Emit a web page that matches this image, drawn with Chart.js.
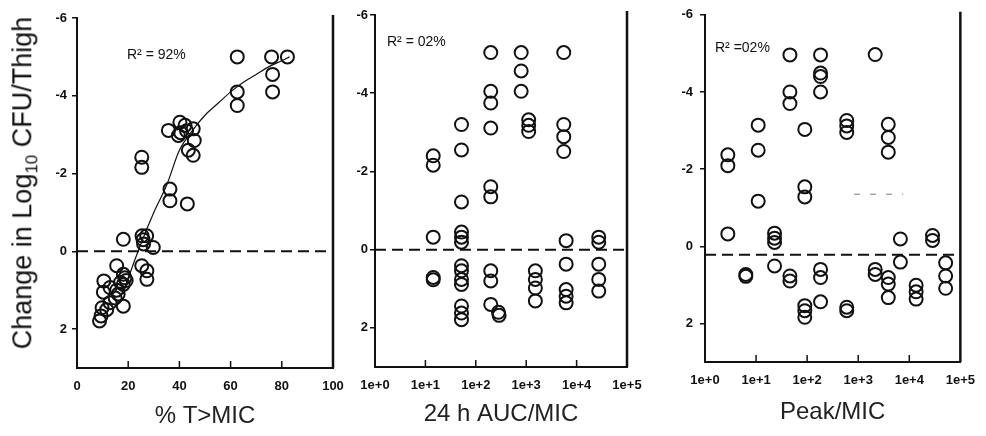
<!DOCTYPE html>
<html>
<head>
<meta charset="utf-8">
<script src="https://cdn.jsdelivr.net/npm/chart.js@4.4.1/dist/chart.umd.min.js"></script>
<style>
  html, body { margin: 0; padding: 0; background: #fff; }
  #wrap { position: relative; width: 986px; height: 436px; overflow: hidden; }
  #wrap canvas { position: absolute; left: 0; top: 0; }
  #ytitle {
    position: absolute; left: 25px; top: 183px;
    transform: translate(-50%, -50%) rotate(-90deg);
    font: 27px "Liberation Sans", Arial, sans-serif; color: #111; white-space: nowrap;
  }
  #ytitle sub { font-size: 17px; }
</style>
</head>
<body>
<div id="wrap">
  <canvas id="c1" width="986" height="436"></canvas>
  <canvas id="c2" width="986" height="436"></canvas>
  <canvas id="c3" width="986" height="436"></canvas>
  <div id="ytitle">Change in Log<sub>10</sub> CFU/Thigh</div>
</div>
<script>
// axis ticks
const yTicks = [-6, -4, -2, 0, 2];
const timeTicks = [0, 20, 40, 60, 80, 100];
const logTicks = [1, 10, 100, 1000, 10000, 100000];

// % T>MIC  [x, change]
const timePoints = [
  [62.6, -5.0], [76, -5.0], [82.2, -5.0], [76.4, -4.55], [76.4, -4.1], [62.6, -4.1], [62.6, -3.75],
  [40.2, -3.32], [35.7, -3.11], [39.6, -2.98], [42.8, -3.1], [45.4, -3.15], [45.8, -2.85],
  [43.5, -2.6], [45.4, -2.47], [42.2, -3.24], [40.5, -3.05],
  [25.3, -2.42], [25.3, -2.16],
  [36.3, -1.6], [36.3, -1.3], [43.1, -1.22],
  [18.1, -0.31], [25.4, -0.4], [27.2, -0.4], [26.0, -0.19], [29.8, -0.1], [25.8, -0.3],
  [25.3, 0.37], [27.3, 0.5], [27.3, 0.72], [15.5, 0.37],
  [10.5, 0.76], [12.9, 0.93], [15.5, 1.0], [18.1, 0.59], [18.7, 0.68], [18.1, 0.85], [19.2, 0.75],
  [17.0, 0.8], [16.1, 1.1], [12.9, 1.32], [18.1, 1.41], [9.8, 1.45], [9.4, 1.66], [8.8, 1.79],
  [11.6, 1.5], [14.9, 1.2], [10.3, 1.05]
];
// fitted curve through % T>MIC
const timeFit = [
  [18, 1.1], [20, 0.7], [25, -0.2], [30, -1.0], [35, -1.7], [40, -2.6], [45, -3.1], [50, -3.5],
  [55, -3.8], [60, -4.1], [65, -4.35], [70, -4.55], [75, -4.75], [80, -4.9], [83, -5.0]
];

// 24 h AUC/MIC
const aucPoints = [
  [14.3, -2.40], [14.3, -2.16], [14.3, -0.32], [14.3, 0.71], [14.3, 0.77],
  [52, -3.20], [52, -2.55], [52, -1.22], [52, -0.45], [52, -0.32], [52, -0.19], [52, 0.41], [52, 0.54],
  [52, 0.76], [52, 0.89], [52, 1.44], [52, 1.62], [52, 1.79],
  [198, -5.04], [198, -4.05], [198, -3.75], [198, -3.11], [198, -1.61], [198, -1.35], [198, 0.54],
  [198, 0.80], [198, 1.40], [282, 1.6], [290, 1.68],
  [795, -5.04], [795, -4.57], [795, -4.05],
  [1120, -3.32], [1120, -3.18], [1120, -3.02],
  [1520, 0.54], [1520, 0.76], [1520, 0.98], [1520, 1.31],
  [5560, -5.04], [5560, -3.2], [5560, -2.89], [5560, -2.51],
  [6200, -0.23], [6200, 0.37], [6200, 1.02], [6200, 1.19], [6200, 1.36],
  [27500, -0.32], [27500, -0.19], [27500, 0.37], [27500, 0.76], [27500, 1.06]
];

// Peak/MIC
const peakPoints = [
  [2.8, -2.37], [2.8, -2.09], [2.8, -0.32],
  [6.3, 0.73], [6.3, 0.78],
  [11, -3.14], [11, -2.49], [11, -1.17],
  [23, -0.34], [23, -0.21], [23, -0.10], [23, 0.51],
  [46, -4.96], [46, -4.0], [46, -3.7], [46, 0.77], [46, 0.90],
  [90, -3.03], [90, -1.54], [90, -1.28], [90, 1.54], [90, 1.67], [90, 1.84],
  [183, -4.96], [183, -4.49], [183, -4.40], [183, -4.0], [183, 0.6], [183, 0.81], [183, 1.44],
  [596, -3.26], [596, -3.12], [596, -2.95], [596, 1.58], [596, 1.67],
  [2150, -4.97], [2150, 0.6], [2150, 0.73],
  [3880, -3.16], [3880, -2.82], [3880, -2.44], [3880, 0.81], [3880, 0.98], [3880, 1.33],
  [6700, -0.19], [6700, 0.41],
  [13600, 1.01], [13600, 1.18], [13600, 1.37],
  [28500, -0.28], [28500, -0.15],
  [51500, 0.43], [51500, 0.77], [51500, 1.09]
];

// reference (dashed) lines
const timeZero = [[0, 0], [100, 0]];
const aucZero = [[1, 0], [100000, 0]];
const peakZero = [[1, 0.22], [100000, 0.22]];
const peakStray = [[830, -1.35], [7600, -1.35]];

const FONT = '"Liberation Sans", Arial, sans-serif';
const INK = '#111';
const Y_W = 40;

const xy = pts => pts.map(([x, y]) => ({ x: x, y: y }));

const framePlugin = {
  id: 'frame',
  afterDraw(chart, args, o) {
    const { ctx, chartArea: a } = chart;
    const x = chart.scales.x;
    ctx.save();
    ctx.strokeStyle = INK;
    ctx.lineWidth = 2.5;
    ctx.beginPath();
    ctx.moveTo(a.right, a.top - o.rightUp);
    ctx.lineTo(a.right, a.bottom);
    ctx.stroke();
    ctx.lineWidth = 1.5;
    x.ticks.forEach(t => {
      if (t.value > x.min && t.value < x.max) {
        const px = x.getPixelForValue(t.value);
        ctx.beginPath();
        ctx.moveTo(px, a.bottom);
        ctx.lineTo(px, a.bottom - 7);
        ctx.stroke();
      }
    });
    ctx.font = '14px ' + FONT;
    ctx.fillStyle = INK;
    ctx.textBaseline = 'middle';
    ctx.fillText(o.label, a.left + o.dx, a.top + o.dy);
    ctx.restore();
  }
};

function scatterSet(pts) {
  return {
    data: xy(pts),
    pointRadius: 6.5,
    borderWidth: 2,
    borderColor: INK,
    backgroundColor: 'rgba(0,0,0,0)'
  };
}

function lineSet(pts, dash, width, color) {
  return {
    data: xy(pts),
    showLine: true,
    pointRadius: 0,
    borderWidth: width,
    borderDash: dash,
    borderColor: color,
    cubicInterpolationMode: 'monotone'
  };
}

function panel(id, p) {
  const isLog = p.type === 'logarithmic';
  return new Chart(document.getElementById(id), {
    type: 'scatter',
    data: { datasets: p.datasets },
    options: {
      responsive: false,
      animation: false,
      layout: { padding: { left: p.left - Y_W, right: 986 - p.right, top: p.top, bottom: 0 } },
      plugins: {
        legend: { display: false },
        tooltip: { enabled: false },
        frame: { label: p.label, dx: p.labelDx, dy: p.labelDy, rightUp: p.rightUp }
      },
      scales: {
        x: {
          type: p.type,
          min: p.xTicks[0],
          max: p.xTicks[p.xTicks.length - 1],
          afterBuildTicks: s => { s.ticks = p.xTicks.map(v => ({ value: v })); },
          afterFit: s => { s.height = 436 - p.bottom; },
          grid: { display: false, drawTicks: false },
          border: { display: true, color: INK, width: 2 },
          ticks: {
            padding: 11, color: INK, maxRotation: 0, autoSkip: false,
            font: { family: FONT, size: 13, weight: 'bold' },
            callback: v => isLog ? Number(v).toExponential(0) : String(v)
          },
          title: {
            display: true, text: p.title, color: '#222',
            font: { family: FONT, size: 24 },
            padding: { top: 0, bottom: p.titlePad }
          }
        },
        y: {
          reverse: true,
          min: -6,
          max: 3,
          afterBuildTicks: s => { s.ticks = yTicks.map(v => ({ value: v })); },
          afterFit: s => { s.width = Y_W; },
          grid: { drawOnChartArea: false, drawTicks: true, tickLength: 5, color: INK, lineWidth: 1.5 },
          border: { display: true, color: INK, width: 2 },
          ticks: { padding: p.yPad, color: INK, font: { family: FONT, size: 13, weight: 'bold' } }
        }
      }
    },
    plugins: [framePlugin]
  });
}

panel('c1', {
  type: 'linear', xTicks: timeTicks, title: '% T>MIC',
  left: 77, right: 333, top: 18, bottom: 368, titlePad: 5, yPad: 5,
  label: 'R² = 92%', labelDx: 50, labelDy: 37, rightUp: 3,
  datasets: [
    lineSet(timeZero, [11, 6], 2, INK),
    lineSet(timeFit, [], 1.2, INK),
    scatterSet(timePoints)
  ]
});

panel('c2', {
  type: 'logarithmic', xTicks: logTicks, title: '24 h AUC/MIC',
  left: 375, right: 627, top: 15, bottom: 367, titlePad: 7, yPad: 2,
  label: 'R² = 02%', labelDx: 12, labelDy: 27, rightUp: 4,
  datasets: [
    lineSet(aucZero, [11, 6], 2, INK),
    scatterSet(aucPoints)
  ]
});

panel('c3', {
  type: 'logarithmic', xTicks: logTicks, title: 'Peak/MIC',
  left: 705, right: 963, top: 12, bottom: 362, titlePad: 9, yPad: 7,
  label: 'R² =02%', labelDx: 10, labelDy: 33, rightUp: 3,
  datasets: [
    lineSet(peakZero, [11, 6], 2, INK),
    lineSet(peakStray, [6, 10], 1, '#777'),
    scatterSet(peakPoints)
  ]
});
</script>
</body>
</html>
